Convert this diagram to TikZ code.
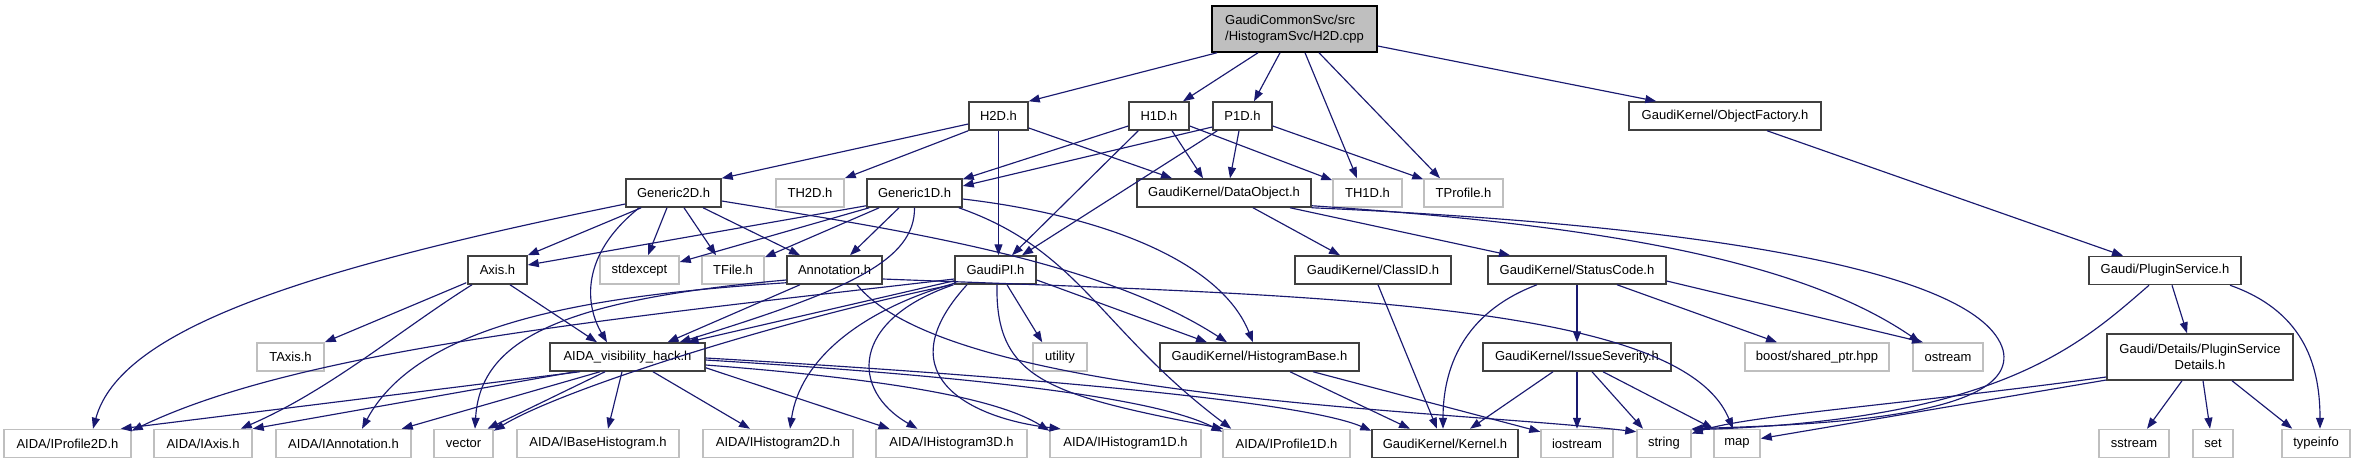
\documentclass[tikz,border=0pt]{standalone}
\usepackage{fontspec}
\setmainfont{Liberation Sans}
\usetikzlibrary{arrows.meta,calc}
\definecolor{edgecol}{HTML}{191970}
\definecolor{docborder}{HTML}{404040}
\definecolor{extborder}{HTML}{BFBFBF}
\definecolor{topfill}{HTML}{BFBFBF}
\tikzset{
  base/.style={rectangle, inner sep=0pt, minimum height=28pt, font=\fontsize{13}{16.5}\selectfont, line width=1.5pt, fill=white},
  doc/.style={base, draw=docborder},
  ext/.style={base, draw=extborder},
  edge/.style={draw=edgecol, line width=1.15pt, -{Triangle[length=11pt,width=8pt]}, fill=none},
}
\begin{document}
\begin{tikzpicture}[x=1pt,y=-1pt]
\fill[white] (0,0) rectangle (2355,464);
\useasboundingbox (0,0) rectangle (2355,464);
% row 0
\node[doc, fill=topfill, draw=black, minimum width=165pt, minimum height=46pt, align=left] (top) at (1294.5,29) {GaudiCommonSvc/src\\/HistogramSvc/H2D.cpp};
% row 1
\node[doc, minimum width=59pt] (h2d) at (998.5,116) {H2D.h};
\node[doc, minimum width=60pt] (h1d) at (1159,116) {H1D.h};
\node[doc, minimum width=59pt] (p1d) at (1242.5,116) {P1D.h};
\node[doc, minimum width=192pt] (of) at (1725,116) {GaudiKernel/ObjectFactory.h};
% row 2
\node[doc, minimum width=95pt] (g2d) at (673.5,193) {Generic2D.h};
\node[ext, minimum width=68pt] (th2d) at (810,193) {TH2D.h};
\node[doc, minimum width=95pt] (g1d) at (914.5,193) {Generic1D.h};
\node[doc, minimum width=174pt] (dobj) at (1224,193) {GaudiKernel/DataObject.h};
\node[ext, minimum width=69pt] (th1d) at (1367.5,193) {TH1D.h};
\node[ext, minimum width=79pt] (tprof) at (1463.5,193) {TProfile.h};
% row 3
\node[doc, minimum width=59pt] (axis) at (497.5,270) {Axis.h};
\node[ext, minimum width=79pt] (stdex) at (639.5,270) {stdexcept};
\node[ext, minimum width=62pt] (tfile) at (733,270) {TFile.h};
\node[doc, minimum width=95pt] (annot) at (834.5,270) {Annotation.h};
\node[doc, minimum width=81pt] (gpi) at (995.5,270) {GaudiPI.h};
\node[doc, minimum width=156pt] (classid) at (1373,270) {GaudiKernel/ClassID.h};
\node[doc, minimum width=178pt] (status) at (1577,270) {GaudiKernel/StatusCode.h};
\node[doc, minimum width=152pt] (plugin) at (2165,270.5) {Gaudi/PluginService.h};
% row 4
\node[ext, minimum width=67pt] (taxis) at (290.5,357) {TAxis.h};
\node[doc, minimum width=155pt] (avh) at (627.5,357) {AIDA\_visibility\_hack.h};
\node[ext, minimum width=54pt] (utility) at (1060,357) {utility};
\node[doc, minimum width=199pt] (hbase) at (1259.5,357) {GaudiKernel/HistogramBase.h};
\node[doc, minimum width=188pt] (issue) at (1577,357) {GaudiKernel/IssueSeverity.h};
\node[ext, minimum width=144pt] (boost) at (1817,357) {boost/shared\_ptr.hpp};
\node[ext, minimum width=70pt] (ostream) at (1948,357) {ostream};
\node[doc, minimum width=186pt, minimum height=46pt, align=center] (details) at (2200,357) {Gaudi/Details/PluginService\\Details.h};
% row 5
\node[ext, minimum width=127pt] (ipr2d) at (67.5,443.5) {AIDA/IProfile2D.h};
\node[ext, minimum width=98pt] (iaxis) at (203,443.5) {AIDA/IAxis.h};
\node[ext, minimum width=135pt] (iannot) at (343.5,443.5) {AIDA/IAnnotation.h};
\node[ext, minimum width=59pt] (vector) at (463.5,443.5) {vector};
\node[ext, minimum width=162pt] (ibase) at (598,443.5) {AIDA/IBaseHistogram.h};
\node[ext, minimum width=150pt] (ih2d) at (778,443.5) {AIDA/IHistogram2D.h};
\node[ext, minimum width=151pt] (ih3d) at (951.5,443.5) {AIDA/IHistogram3D.h};
\node[ext, minimum width=151pt] (ih1d) at (1125.5,443.5) {AIDA/IHistogram1D.h};
\node[ext, minimum width=127pt] (ipr1d) at (1286.5,443.5) {AIDA/IProfile1D.h};
\node[doc, minimum width=146pt] (kernel) at (1445,443.5) {GaudiKernel/Kernel.h};
\node[ext, minimum width=72pt] (iostream) at (1577,443.5) {iostream};
\node[ext, minimum width=54pt] (string) at (1664,443.5) {string};
\node[ext, minimum width=46pt] (map) at (1737,443.5) {map};
\node[ext, minimum width=70pt] (sstream) at (2134,443.5) {sstream};
\node[ext, minimum width=40pt] (set) at (2213,443.5) {set};
\node[ext, minimum width=68pt] (typeinfo) at (2316,443.5) {typeinfo};

% edges from top
\draw[edge] ($(top.south)+(-77.5,0)$) -- (h2d.north east);
\draw[edge] ($(top.south)+(-36.5,0)$) -- ($(h1d.north)+(24,0)$);
\draw[edge] ($(top.south)+(-14.5,0)$) -- ($(p1d.north)+(11.5,0)$);
\draw[edge] ($(top.south)+(10.5,0)$) -- ($(th1d.north)+(-10.5,0)$);
\draw[edge] ($(top.south)+(24.5,0)$) -- ($(tprof.north)+(-23.5,0)$);
\draw[edge] ($(top.east)+(0,17)$) -- ($(of.north west)+(28,0)$);
% H2D.h
\draw[edge] ($(h2d.west)+(0,8)$) -- (g2d.north east);
\draw[edge] (h2d.south west) -- (th2d.north east);
\draw[edge] (h2d.south) -- ($(gpi.north)+(3,0)$);
\draw[edge] ($(h2d.east)+(0,12)$) -- ($(dobj.north)+(-52,0)$);
% H1D.h
\draw[edge] ($(h1d.west)+(0,10)$) -- ($(g1d.north east)+(0,1)$);
\draw[edge] ($(h1d.south west)+(10,0)$) -- ($(gpi.north)+(16.5,0)$);
\draw[edge] ($(h1d.south)+(13,0)$) -- ($(dobj.north)+(-21,0)$);
\draw[edge] ($(h1d.east)+(0,10)$) -- ($(th1d.north west)+(0,2)$);
% P1D.h
\draw[edge] ($(p1d.west)+(0,11)$) -- ($(g1d.east)+(0,-7)$);
\draw[edge] ($(p1d.south west)+(5,0)$) -- ($(gpi.north)+(26.5,0)$);
\draw[edge] ($(p1d.south)+(-3.5,0)$) -- ($(dobj.north)+(6,0)$);
\draw[edge] ($(p1d.east)+(0,10)$) -- ($(tprof.north west)+(0,1)$);
% ObjectFactory
\draw[edge] ($(of.south)+(42,0)$) -- ($(plugin.north)+(-42,0)$);
% Generic2D.h
\draw[edge] ($(g2d.west)+(0,11)$) .. controls (300,270) and (120,330) .. ($(ipr2d.north)+(25.5,0)$);
\draw[edge] ($(g2d.south west)+(16,0)$) -- (axis.north east);
\draw[edge] ($(g2d.south west)+(14,0)$) .. controls (580,255) and (585,305) .. ($(avh.north)+(-20.5,0)$);
\draw[edge] ($(g2d.south)+(-6.5,0)$) -- ($(stdex.north)+(8.5,0)$);
\draw[edge] ($(g2d.south)+(10.5,0)$) -- ($(tfile.north)+(-17,0)$);
\draw[edge] ($(g2d.south)+(29.5,0)$) -- ($(annot.north)+(-34.5,0)$);
\draw[edge] ($(g2d.east)+(0,8)$) .. controls (900,230) and (1100,260) .. ($(hbase.north)+(-32.5,0)$);
% Generic1D.h
\draw[edge] ($(g1d.south west)+(0,-2)$) -- ($(axis.east)+(0,-5)$);
\draw[edge] ($(g1d.south west)+(3,0)$) -- ($(stdex.east)+(0,-8)$);
\draw[edge] ($(g1d.south west)+(13,0)$) -- ($(tfile.north east)+(0,2)$);
\draw[edge] ($(g1d.south)+(-15.5,0)$) -- ($(annot.north)+(15.5,0)$);
\draw[edge] (g1d.south) .. controls (915,260) and (850,290) .. ($(avh.north)+(52,0)$);
\draw[edge] ($(g1d.south east)+(-4,0)$) .. controls (1080,250) and (1100,330) .. ($(ipr1d.north west)+(9,0)$);
\draw[edge] ($(g1d.east)+(0,6)$) .. controls (1100,215) and (1220,260) .. ($(hbase.north)+(-6.5,0)$);
% DataObject.h
\draw[edge] ($(dobj.south)+(29,0)$) -- ($(classid.north)+(-33,0)$);
\draw[edge] ($(dobj.south)+(66,0)$) -- ($(status.north)+(-67,0)$);
\draw[edge] ($(dobj.south east)+(0,-2)$) .. controls (1600,225) and (1800,260) .. ($(ostream.north)+(-28,0)$);
\draw[edge] (dobj.south east) .. controls (1700,225) and (1980,270) .. (2003,350) .. controls (2020,420) and (1800,425) .. (string.north east);
% Axis.h
\draw[edge] ($(axis.south west)+(-1,-2)$) -- (taxis.north east);
\draw[edge] ($(axis.south)+(12.5,0)$) -- ($(avh.north)+(-30.5,0)$);
\draw[edge] ($(axis.south)+(-25.5,0)$) .. controls (400,330) and (330,390) .. ($(iaxis.north east)+(-12,0)$);
% Annotation.h
\draw[edge] ($(annot.south)+(-34.5,0)$) -- ($(avh.north)+(40,0)$);
\draw[edge] ($(annot.south west)+(0,-2)$) .. controls (600,295) and (420,320) .. ($(iannot.north)+(18.5,0)$);
\draw[edge] ($(annot.west)+(0,10)$) .. controls (560,300) and (480,340) .. ($(vector.north)+(11.5,0)$);
\draw[edge] ($(annot.east)+(0,9)$) .. controls (1300,295) and (1680,300) .. ($(map.north)+(-4,0)$);
\draw[edge] ($(annot.south)+(22.5,0)$) .. controls (950,400) and (1450,410) .. ($(string.north west)+(0,3)$);
% GaudiPI.h
\draw[edge] ($(gpi.south west)+(0,-4)$) -- ($(avh.north)+(60,0)$);
\draw[edge] ($(gpi.south)+(11.5,0)$) -- ($(utility.north west)+(10,0)$);
\draw[edge] ($(gpi.east)+(0,10)$) -- ($(hbase.north)+(-52.5,0)$);
\draw[edge] ($(gpi.west)+(0,9)$) .. controls (600,320) and (300,350) .. ($(ipr2d.north east)+(0,2)$);
\draw[edge] ($(gpi.south west)+(-2,0)$) .. controls (780,320) and (560,390) .. ($(vector.north east)+(0,2)$);
\draw[edge] ($(gpi.south west)+(2,-2)$) .. controls (860,310) and (800,360) .. ($(ih2d.north)+(12,0)$);
\draw[edge] ($(gpi.south)+(-42,0)$) .. controls (850,320) and (850,390) .. ($(ih3d.north)+(-34,0)$);
\draw[edge] ($(gpi.south)+(-28.5,0)$) .. controls (880,380) and (980,420) .. ($(ih1d.north)+(-65,0)$);
\draw[edge] ($(gpi.south)+(1.5,0)$) .. controls (995,380) and (1050,395) .. ($(ipr1d.north west)+(1,0)$);
% AIDA_visibility_hack.h
\draw[edge] ($(avh.south)+(-47.5,0)$) -- ($(ipr2d.north east)+(-11,0)$);
\draw[edge] ($(avh.south)+(-52.5,0)$) -- (iaxis.north east);
\draw[edge] ($(avh.south)+(-27.5,0)$) -- ($(iannot.north east)+(-10,0)$);
\draw[edge] ($(avh.south)+(-22.5,0)$) -- ($(vector.north)+(24,0)$);
\draw[edge] ($(avh.south)+(-5.5,0)$) -- ($(ibase.north)+(10,0)$);
\draw[edge] ($(avh.south)+(25.5,0)$) -- ($(ih2d.north)+(-28,0)$);
\draw[edge] ($(avh.south east)+(0,-4)$) -- ($(ih3d.north)+(-62,0)$);
\draw[edge] ($(avh.east)+(0,8)$) .. controls (900,380) and (1000,400) .. ($(ih1d.north west)+(0,2)$);
\draw[edge] ($(avh.east)+(0,3)$) .. controls (950,375) and (1150,395) .. ($(ipr1d.north west)+(0,3)$);
\draw[edge] ($(avh.east)+(0,1)$) .. controls (1000,375) and (1300,400) .. ($(kernel.north west)+(0,2)$);
% ClassID, StatusCode, HistogramBase, IssueSeverity
\draw[edge] ($(classid.south)+(5,0)$) -- ($(kernel.north)+(-8,0)$);
\draw[edge] ($(status.south)+(-40,0)$) .. controls (1470,310) and (1443,360) .. ($(kernel.north)+(-2,0)$);
\draw[edge] (status.south) -- (issue.north);
\draw[edge] ($(status.south)+(40,0)$) -- ($(boost.north)+(-40,0)$);
\draw[edge] ($(status.east)+(0,11)$) -- ($(ostream.north)+(-25,0)$);
\draw[edge] ($(hbase.south)+(30.5,0)$) -- ($(kernel.north)+(-35,0)$);
\draw[edge] ($(hbase.south)+(53.5,0)$) -- ($(iostream.north west)+(0,3)$);
\draw[edge] ($(issue.south)+(-24,0)$) -- ($(kernel.north)+(25,0)$);
\draw[edge] (issue.south) -- (iostream.north);
\draw[edge] ($(issue.south)+(15,0)$) -- ($(string.north)+(-21,0)$);
\draw[edge] ($(issue.south)+(26,0)$) -- (map.north west);
% Plugin service
\draw[edge] ($(plugin.south)+(7,0)$) -- ($(details.north)+(-13,0)$);
\draw[edge] ($(plugin.south)+(65,0)$) .. controls (2300,310) and (2320,360) .. ($(typeinfo.north)+(4,0)$);
\draw[edge] ($(plugin.south)+(-16,0)$) .. controls (2080,345) and (2000,420) .. ($(string.north east)+(0,1)$);
\draw[edge] ($(details.west)+(0,20)$) .. controls (1900,405) and (1750,415) .. ($(string.east)+(0,-10)$);
\draw[edge] ($(details.west)+(0,23)$) -- ($(map.east)+(0,-5)$);
\draw[edge] ($(details.south)+(-18,0)$) -- ($(sstream.north)+(13,0)$);
\draw[edge] ($(details.south)+(3,0)$) -- ($(set.north)+(-3,0)$);
\draw[edge] ($(details.south)+(32,0)$) -- ($(typeinfo.north west)+(11,0)$);
\end{tikzpicture}
\end{document}
